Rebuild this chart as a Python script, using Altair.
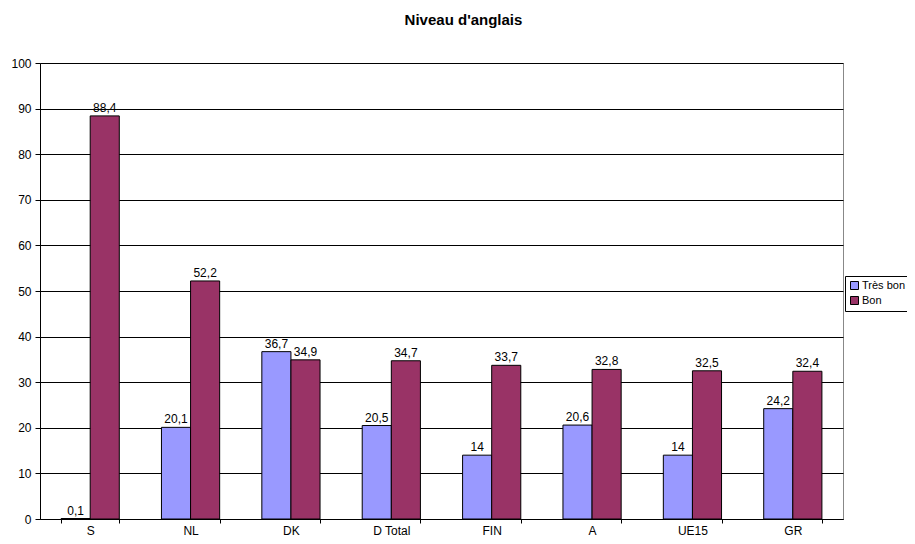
import altair as alt
import pandas as pd

categories = ["S", "NL", "DK", "D Total", "FIN", "A", "UE15", "GR"]
tres_bon = [0.1, 20.1, 36.7, 20.5, 14, 20.6, 14, 24.2]
bon = [88.4, 52.2, 34.9, 34.7, 33.7, 32.8, 32.5, 32.4]
series = ["Très bon", "Bon"]
colors = ["#9999FF", "#993366"]

rows = []
for c, a, b in zip(categories, tres_bon, bon):
    for s, v in zip(series, [a, b]):
        rows.append({"cat": c, "serie": s, "val": v,
                     "lab": f"{v:g}".replace(".", ",")})
df = pd.DataFrame(rows)

FONT = "Liberation Sans"

base = alt.Chart(df).encode(
    x=alt.X("cat:N", sort=categories, title=None,
            scale=alt.Scale(paddingInner=0.42, paddingOuter=0.21),
            axis=alt.Axis(labelAngle=0, tickBand="extent", domainColor="black",
                          tickColor="black", tickSize=4, labelPadding=2,
                          labelFont=FONT, labelFontSize=12, labelColor="black")),
    xOffset=alt.XOffset("serie:N", sort=series, scale=alt.Scale(paddingInner=0, paddingOuter=0)),
    y=alt.Y("val:Q", title=None,
            scale=alt.Scale(domain=[0, 100], nice=False),
            axis=alt.Axis(values=list(range(0, 101, 10)), grid=True, gridColor="black",
                          gridOpacity=1, domainColor="black", tickColor="black", tickSize=5,
                          labelFont=FONT, labelFontSize=12, labelColor="black", labelPadding=4)),
)

bars = base.mark_bar(stroke="black", strokeWidth=1).encode(
    color=alt.Color("serie:N", sort=series, title=None,
                    scale=alt.Scale(domain=series, range=colors),
                    legend=alt.Legend(orient="none", legendX=805, legendY=213,
                                      symbolType="square", symbolSize=64,
                                      symbolStrokeColor="black", symbolStrokeWidth=1,
                                      labelFont=FONT, labelFontSize=11, labelColor="black",
                                      strokeColor="black", padding=4, rowPadding=2,
                                      symbolOffset=0, labelOffset=2, fillColor="white"))
)

texts = base.mark_text(dy=-8, font=FONT, fontSize=12, color="black").encode(
    text="lab:N"
)

chart = alt.layer(bars, texts).properties(
    width=803, height=456,
    autosize=alt.AutoSizeParams(type="none"),
    padding={"left": 32, "top": 55, "right": 64, "bottom": 17},
    title=alt.TitleParams("Niveau d'anglais", font=FONT, fontSize=15, fontWeight="bold",
                          anchor="middle", dx=22, offset=29, color="black"),
).configure_view(stroke="#888888", strokeWidth=1)

chart.save("out.html", embed_options={"renderer": "svg", "actions": False})
